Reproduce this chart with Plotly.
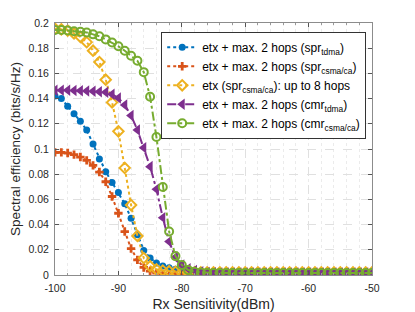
import plotly.graph_objects as go

rx_sens = list(range(-100, -49))

spr_tdma = [0.142, 0.140, 0.134, 0.128, 0.122, 0.115, 0.104, 0.092, 0.082, 0.0735,
            0.0655, 0.0565, 0.045, 0.032, 0.0195, 0.0135, 0.0095, 0.0072, 0.0058, 0.0045,
            0.0035, 0.0028, 0.002, 0.0015, 0.0012, 0.001, 0.001, 0.001, 0.001, 0.001,
            0.001, 0.001, 0.001, 0.001, 0.001, 0.001, 0.001, 0.001, 0.001, 0.001,
            0.001, 0.001, 0.001, 0.001, 0.001, 0.001, 0.001, 0.001, 0.001, 0.001, 0.001]

spr_csma = [0.0973, 0.0973, 0.0968, 0.0955, 0.0936, 0.091, 0.087, 0.0817, 0.074, 0.0623,
            0.049, 0.0345, 0.021, 0.012, 0.006, 0.003, 0.0015, 0.0008, 0.0005, 0.0003,
            0.0002, 0.0001, 0.0001, 0.0001, 0.0001, 0.0001, 0.0001, 0.0001, 0.0001, 0.0001,
            0.0001, 0.0001, 0.0001, 0.0001, 0.0001, 0.0001, 0.0001, 0.0001, 0.0001, 0.0001,
            0.0001, 0.0001, 0.0001, 0.0001, 0.0001, 0.0001, 0.0001, 0.0001, 0.0001, 0.0001, 0.0001]

spr_csma_8hops = [0.1955, 0.195, 0.194, 0.1917, 0.189, 0.1848, 0.178, 0.169, 0.155, 0.137,
                  0.114, 0.085, 0.0555, 0.031, 0.0135, 0.007, 0.0045, 0.0035, 0.003, 0.0025,
                  0.002, 0.002, 0.002, 0.002, 0.002, 0.002, 0.002, 0.002, 0.002, 0.002,
                  0.002, 0.002, 0.002, 0.002, 0.002, 0.002, 0.002, 0.002, 0.002, 0.002,
                  0.002, 0.002, 0.002, 0.002, 0.002, 0.002, 0.002, 0.002, 0.002, 0.002, 0.002]

cmr_tdma = [0.1466, 0.1466, 0.1466, 0.1465, 0.1463, 0.146, 0.1458, 0.1455, 0.145, 0.1435,
            0.1405, 0.135, 0.1265, 0.115, 0.101, 0.086, 0.068, 0.0455, 0.0265, 0.014,
            0.008, 0.005, 0.0035, 0.0025, 0.002, 0.0018, 0.0016, 0.0015, 0.0015, 0.0015,
            0.0015, 0.0015, 0.0015, 0.0015, 0.0015, 0.0015, 0.0015, 0.0015, 0.0015, 0.0015,
            0.0015, 0.0015, 0.0015, 0.0015, 0.0015, 0.0015, 0.0015, 0.0015, 0.0015, 0.0015, 0.0015]

cmr_csma = [0.1944, 0.1944, 0.194, 0.1935, 0.193, 0.1925, 0.191, 0.1895, 0.187, 0.1845,
            0.1815, 0.178, 0.174, 0.170, 0.161, 0.1415, 0.1095, 0.0698, 0.0345, 0.015,
            0.008, 0.004, 0.0025, 0.002, 0.0018, 0.0016, 0.0015, 0.0015, 0.0015, 0.0015,
            0.0015, 0.0015, 0.0015, 0.0015, 0.0015, 0.0015, 0.0015, 0.0015, 0.0015, 0.0015,
            0.0015, 0.0015, 0.0015, 0.0015, 0.0015, 0.0015, 0.0015, 0.0015, 0.0015, 0.0015, 0.0015]

names = [
    "etx + max. 2 hops (spr<sub>tdma</sub>)",
    "etx + max. 2 hops (spr<sub>csma/ca</sub>)",
    "etx (spr<sub>csma/ca</sub>): up to 8 hops",
    "etx + max. 2 hops (cmr<sub>tdma</sub>)",
    "etx + max. 2 hops (cmr<sub>csma/ca</sub>)",
]

x_ticks = [-100, -90, -80, -70, -60, -50]
x_tick_text = ["-100", "-90", "-80", "-70", "-60", "-50"]
y_ticks = [0, 0.02, 0.04, 0.06, 0.08, 0.1, 0.12, 0.14, 0.16, 0.18, 0.2]
y_tick_text = ["0", "0.02", "0.04", "0.06", "0.08", "0.1", "0.12", "0.14", "0.16", "0.18", "0.2"]

series = [spr_tdma, spr_csma, spr_csma_8hops, cmr_tdma, cmr_csma]
colors = ["#0072BD", "#D95319", "#EDB120", "#7E2F8E", "#77AC30"]
dashes = ["dot", "dot", "dot", "dashdot", "dashdot"]
symbols = ["circle", "cross", "diamond-open", "triangle-left", "circle-open"]
msizes = [7, 7, 8, 10, 8]

FONT = "Liberation Sans, Arial, sans-serif"

fig = go.Figure()
for ys, nm, c, d, s, ms in zip(series, names, colors, dashes, symbols, msizes):
    fig.add_trace(go.Scatter(
        x=rx_sens, y=ys, name=nm, mode="lines+markers",
        line=dict(color=c, width=2, dash=d),
        marker=dict(symbol=s, size=ms, color=c, line=dict(color=c, width=2 if "open" in s else 0)),
    ))

axis_common = dict(
    showline=True, linecolor="#8c8c8c", linewidth=1, mirror="ticks",
    ticks="inside", ticklen=4, tickcolor="#555555",
    showgrid=True, gridcolor="#e0e0e0", griddash="dash", gridwidth=1,
    zeroline=False, automargin=False,
    tickfont=dict(family=FONT, size=10.5, color="#262626"),
)

fig.update_xaxes(
    range=[-100, -50], tickvals=x_ticks, ticktext=x_tick_text, ticklabelstandoff=3, **axis_common,
    minor=dict(dtick=2, showgrid=True, gridcolor="#ebebeb", griddash="dot", ticks="inside", ticklen=2, tickcolor="#999999"),
    title=dict(text="Rx Sensitivity(dBm)", font=dict(family=FONT, size=14, color="#262626"), standoff=7),
)
fig.update_yaxes(
    range=[0, 0.2], tickvals=y_ticks, ticktext=y_tick_text, ticklabelstandoff=3, **axis_common,
    title=dict(text="Spectral efficiency (bits/s/Hz)", font=dict(family=FONT, size=13.5, color="#262626"), standoff=8),
)

# the page body has an 8px default margin, so the figure is sized to fill the rest of the window
fig.update_layout(
    width=407, height=304,
    margin=dict(l=47, r=43, t=15, b=37),
    plot_bgcolor="white", paper_bgcolor="white",
    legend=dict(
        x=0.335, y=0.965, xanchor="left", yanchor="top",
        bgcolor="white", bordercolor="#333333", borderwidth=1,
        font=dict(family=FONT, size=12, color="#000000"),
        itemwidth=30, tracegroupgap=0,
    ),
    showlegend=True,
)

fig.write_html("out.html")
